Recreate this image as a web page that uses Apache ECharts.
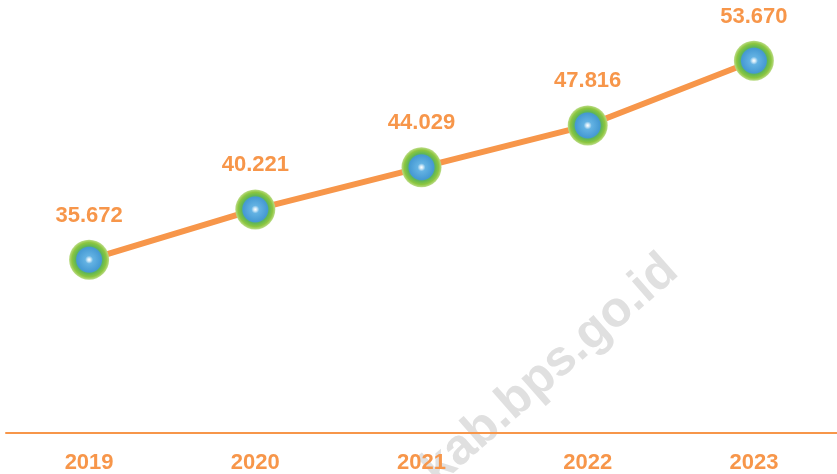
<!DOCTYPE html>
<html>
<head>
<meta charset="utf-8">
<script src="https://cdn.jsdelivr.net/npm/echarts@6/dist/echarts.min.js"></script>
<style>html,body{margin:0;padding:0;background:#fff}#c{width:837px;height:474px}</style>
</head>
<body>
<div id="c"></div>
<script>
const categories = ['2019', '2020', '2021', '2022', '2023'];
const values = [35.672, 40.221, 44.029, 47.816, 53.670];
const labelTexts = ['35.672', '40.221', '44.029', '47.816', '53.670'];

const ORANGE = '#F7964A';
const FONT = "'Liberation Sans', Arial, sans-serif";

const chart = echarts.init(document.getElementById('c'));
chart.setOption({
  backgroundColor: '#ffffff',
  animation: false,
  grid: { left: 6, right: 0, top: 46, bottom: 41, containLabel: false },
  xAxis: {
    type: 'category',
    data: categories,
    boundaryGap: true,
    axisLine: { show: true, lineStyle: { color: ORANGE, width: 2 } },
    axisTick: { show: false },
    axisLabel: { color: ORANGE, fontFamily: FONT, fontWeight: 'bold', fontSize: 22, margin: 19 }
  },
  yAxis: {
    type: 'value', min: 20, max: 55,
    show: false, splitLine: { show: false }
  },
  graphic: [{
    type: 'text', z: 0,
    x: 550, y: 370, rotation: 0.72,
    style: {
      text: 'kab.bps.go.id', fill: '#e0e0e0',
      font: "bold 50px 'Liberation Sans', Arial, sans-serif",
      textAlign: 'center', textVerticalAlign: 'middle'
    }
  }],
  series: [{
    type: 'line',
    z: 5,
    data: values.map((v, i) => ({ value: v, label: { formatter: labelTexts[i] } })),
    lineStyle: { color: ORANGE, width: 6 },
    symbol: 'circle',
    symbolSize: 40,
    itemStyle: {
      color: {
        type: 'radial', x: 0.5, y: 0.5, r: 0.5,
        colorStops: [
          { offset: 0, color: '#ffffff' },
          { offset: 0.08, color: '#cfe8f7' },
          { offset: 0.2, color: '#63b2e3' },
          { offset: 0.62, color: '#4599d3' },
          { offset: 0.68, color: '#5fb656' },
          { offset: 0.86, color: '#8cc63f' },
          { offset: 1, color: '#bcdc88' }
        ]
      },
      borderWidth: 0
    },
    label: {
      show: true, position: 'top', distance: 13,
      color: ORANGE, fontFamily: FONT, fontWeight: 'bold', fontSize: 22
    }
  }]
});
</script>
</body>
</html>
